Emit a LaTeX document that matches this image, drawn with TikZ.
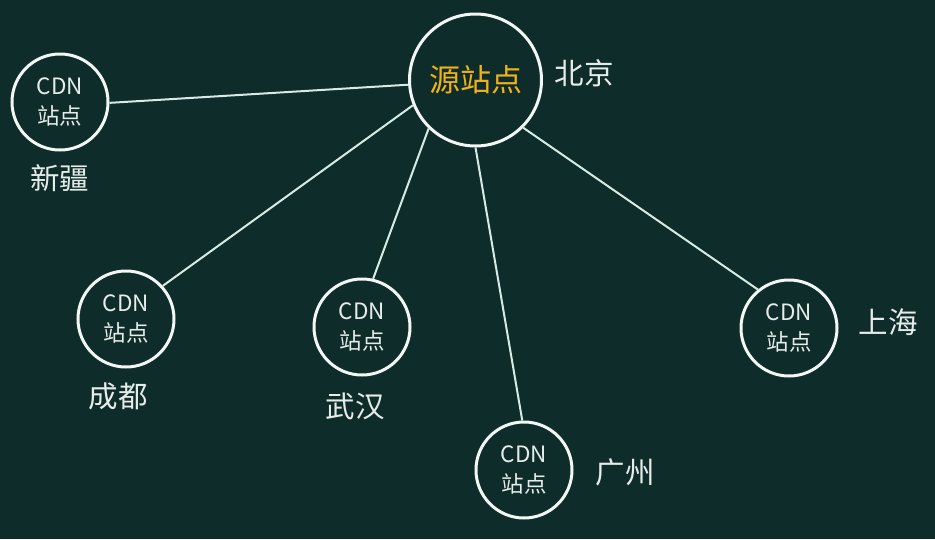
\documentclass[tikz,border=0pt]{standalone}
\usepackage{fontspec}
\setmainfont{Noto Sans CJK SC}
\definecolor{bg}{HTML}{0E2D2A}
\definecolor{ring}{HTML}{F2F6F4}
\definecolor{wire}{HTML}{D6EBE4}
\definecolor{txt}{HTML}{E6ECEA}
\definecolor{gold}{HTML}{F0B21A}
\tikzset{
  cdn/.style={circle,draw=ring,line width=3pt,minimum size=96pt,inner sep=0pt,
    text=txt,align=center,font=\fontsize{22.5}{30}\selectfont},
  srcnode/.style={circle,draw=ring,line width=3pt,minimum size=132pt,inner sep=0pt,
    text=gold,font=\fontsize{31}{36}\selectfont},
  city/.style={text=txt,inner sep=0pt,font=\fontsize{29.5}{34}\selectfont},
  wirestyle/.style={draw=wire,line width=2pt}
}
\begin{document}
\begin{tikzpicture}[x=1pt,y=-1pt]
\fill[bg] (0,0) rectangle (935,539);
\useasboundingbox (0,0) rectangle (935,539);

\node[srcnode] (src) at (475.5,80) {源站点};
\node[city] (bj) at (584,73) {北京};

\node[cdn] (xj) at (60,102) {CDN\\站点};
\node[city] (xjl) at (60,178) {新疆};

\node[cdn] (cd) at (126,319) {CDN\\站点};
\node[city] (cdl) at (118,396) {成都};

\node[cdn] (wh) at (362,327) {CDN\\站点};
\node[city] (whl) at (355,406) {武汉};

\node[cdn] (gz) at (524,470) {CDN\\站点};
\node[city] (gzl) at (625,472) {广州};

\node[cdn] (sh) at (789,328) {CDN\\站点};
\node[city] (shl) at (888,322) {上海};

\draw[wirestyle] (src.184) -- (xj.-1);
\draw[wirestyle] (src.202) -- (cd.42);
\draw[wirestyle] (src.226) -- (wh.77);
\draw[wirestyle] (src.270) -- (gz.92);
\draw[wirestyle] (src.315) -- (sh.129);
\end{tikzpicture}
\end{document}
